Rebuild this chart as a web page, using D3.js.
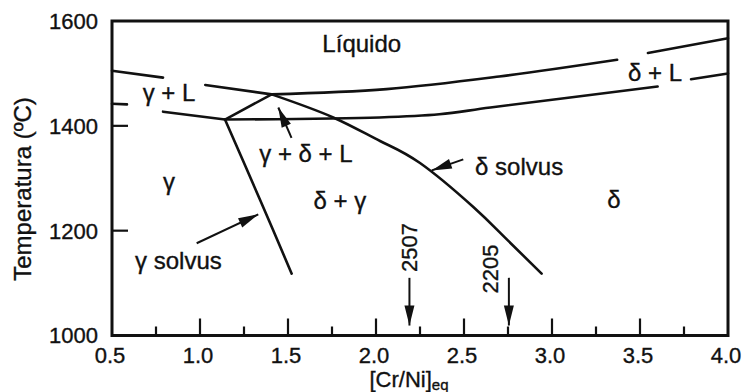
<!DOCTYPE html>
<html>
<head>
<meta charset="utf-8">
<script src="https://cdn.jsdelivr.net/npm/d3@7"></script>
<style>
  html, body { margin: 0; padding: 0; background: #fff; }
  svg { display: block; }
  text { font-family: "Liberation Sans", Arial, Helvetica, sans-serif; fill: #111; stroke: #111; stroke-width: 0.35; }
</style>
</head>
<body>
<svg id="chart" width="747" height="392"></svg>
<script>
// Axis ticks
const xMajorTicks = [0.5, 1.0, 1.5, 2.0, 2.5, 3.0, 3.5, 4.0];
const xMinorTicks = [0.75, 1.25, 1.75, 2.25, 2.75, 3.25, 3.75];
const yMajorTicks = [1000, 1200, 1400, 1600];

// Phase boundaries, [Cr/Ni]eq vs temperature (°C); each boundary is a list of drawn pieces
const liquidusGamma = [
  [[0.5, 1505], [0.79, 1492]],
  [[1.03, 1478], [1.407, 1460]]
];
const liquidusDelta = [
  [[1.407, 1460], [2.06, 1470], [2.70, 1494], [3.37, 1526]],
  [[3.545, 1539], [4.0, 1567]]
];
const solidusGamma = [
  [[0.5, 1442], [0.585, 1441]],
  [[0.79, 1427], [1.142, 1412]]
];
const solidusDelta = [
  [[1.142, 1412], [2.02, 1416], [2.36, 1422], [2.65, 1435], [3.60, 1475]],
  [[3.79, 1489], [4.0, 1500]]
];
const threePhaseEdge = [[[1.142, 1412], [1.407, 1460]]];
const solvusGamma = [[[1.142, 1412], [1.341, 1259], [1.521, 1118]]];
const solvusDelta = [[[1.407, 1460], [1.757, 1416], [2.023, 1371], [2.25, 1329],
                      [2.553, 1245], [2.723, 1190], [2.941, 1118]]];

// Field labels: text, [Cr/Ni]eq, temperature, anchor
const fieldLabels = [
  ["Líquido", 1.919, 1540, "middle"],
  ["γ + L", 0.824, 1447, "middle"],
  ["δ + L", 3.585, 1486, "middle"],
  ["γ + δ + L", 1.602, 1331, "middle"],
  ["δ solvus", 2.563, 1307, "start"],
  ["γ", 0.824, 1278, "middle"],
  ["δ + γ", 1.795, 1242, "middle"],
  ["δ", 3.352, 1244, "middle"],
  ["γ solvus", 0.631, 1127, "start"]
];

// Pointer arrows: from [x, T] to [x, T]
const pointerArrows = [
  [[1.520, 1377], [1.445, 1435]],
  [[2.496, 1336], [2.317, 1315]],
  [[0.981, 1176], [1.331, 1231]]
];

// Alloy grades marked on the axis
const alloyGrades = ["2507", "2205"];
const alloyRatios = [2.19, 2.755];
const alloyLabelPos = [[2.19, 1168], [2.648, 1127]];

const svg = d3.select("#chart");
const x = d3.scaleLinear().domain([0.5, 4.0]).range([112, 728]);
const y = d3.scaleLinear().domain([1000, 1600]).range([335.5, 21]);

const line = d3.line()
  .x(d => x(d[0])).y(d => y(d[1]))
  .curve(d3.curveCatmullRom.alpha(0.5));
const smoothLine = d3.line()
  .x(d => x(d[0])).y(d => y(d[1]))
  .curve(d3.curveNatural);

// Arrowhead marker
svg.append("defs").append("marker")
  .attr("id", "head")
  .attr("markerUnits", "userSpaceOnUse")
  .attr("markerWidth", 24).attr("markerHeight", 14)
  .attr("viewBox", "-22 -7 24 14")
  .attr("refX", 0).attr("refY", 0)
  .attr("orient", "auto")
  .append("path")
  .attr("d", "M0,0 L-20,-5 L-20,5 Z")
  .attr("fill", "#111");

// Frame
svg.append("rect")
  .attr("x", x(0.5)).attr("y", y(1600))
  .attr("width", x(4.0) - x(0.5)).attr("height", y(1000) - y(1600))
  .attr("fill", "none").attr("stroke", "#111").attr("stroke-width", 3);

// Inward ticks
const ticks = svg.append("g").attr("stroke", "#111").attr("stroke-width", 2.2);
ticks.selectAll(".xmaj").data(xMajorTicks.slice(1, -1)).join("line")
  .attr("x1", d => x(d)).attr("x2", d => x(d))
  .attr("y1", y(1000)).attr("y2", y(1000) - 17);
ticks.selectAll(".xmin").data(xMinorTicks).join("line")
  .attr("x1", d => x(d)).attr("x2", d => x(d))
  .attr("y1", y(1000)).attr("y2", y(1000) - 9);
ticks.selectAll(".ymaj").data(yMajorTicks.slice(1, -1)).join("line")
  .attr("x1", x(0.5)).attr("x2", x(0.5) + 16)
  .attr("y1", d => y(d)).attr("y2", d => y(d));

// Tick labels
svg.append("g").selectAll("text").data(xMajorTicks).join("text")
  .attr("x", d => x(d) - 2).attr("y", 363)
  .attr("text-anchor", "middle").attr("font-size", 22)
  .text(d => d.toFixed(1));
svg.append("g").selectAll("text").data(yMajorTicks).join("text")
  .attr("x", 98).attr("y", d => y(d)).attr("dy", "0.36em")
  .attr("text-anchor", "end").attr("font-size", 22)
  .text(d => d);

// Axis titles
svg.append("text")
  .attr("transform", "translate(31,189) rotate(-90)")
  .attr("text-anchor", "middle").attr("font-size", 24)
  .text("Temperatura (ºC)");
const xt = svg.append("text")
  .attr("x", 409).attr("y", 387)
  .attr("text-anchor", "middle").attr("font-size", 22);
xt.append("tspan").text("[Cr/Ni]");
xt.append("tspan").attr("font-size", 15).attr("dy", 3).text("eq");

// Phase boundaries
const boundaries = [liquidusGamma, liquidusDelta, solidusGamma, solidusDelta,
                    threePhaseEdge, solvusGamma];
const boundaryGroup = svg.append("g")
  .attr("fill", "none").attr("stroke", "#111")
  .attr("stroke-width", 2.6).attr("stroke-linecap", "round");
boundaryGroup.selectAll("path.b").data(boundaries.flat()).join("path")
  .attr("class", "b").attr("d", line);
boundaryGroup.selectAll("path.s").data(solvusDelta).join("path")
  .attr("class", "s").attr("d", smoothLine);

// Field labels
svg.append("g").selectAll("text").data(fieldLabels).join("text")
  .attr("x", d => x(d[1])).attr("y", d => y(d[2]))
  .attr("text-anchor", d => d[3]).attr("font-size", 24)
  .text(d => d[0]);

// Pointer arrows
svg.append("g").selectAll("line").data(pointerArrows).join("line")
  .attr("x1", d => x(d[0][0])).attr("y1", d => y(d[0][1]))
  .attr("x2", d => x(d[1][0])).attr("y2", d => y(d[1][1]))
  .attr("stroke", "#111").attr("stroke-width", 2)
  .attr("marker-end", "url(#head)");

// Alloy grade arrows and labels
svg.append("g").selectAll("line").data(alloyRatios).join("line")
  .attr("x1", d => x(d)).attr("y1", y(1110))
  .attr("x2", d => x(d)).attr("y2", y(1019))
  .attr("stroke", "#111").attr("stroke-width", 2)
  .attr("marker-end", "url(#head)");
svg.append("g").selectAll("text").data(alloyGrades).join("text")
  .attr("transform", (d, i) => `translate(${x(alloyLabelPos[i][0])},${y(alloyLabelPos[i][1])}) rotate(-90)`)
  .attr("text-anchor", "middle").attr("dy", "0.36em").attr("font-size", 22)
  .text(d => d);
</script>
</body>
</html>
